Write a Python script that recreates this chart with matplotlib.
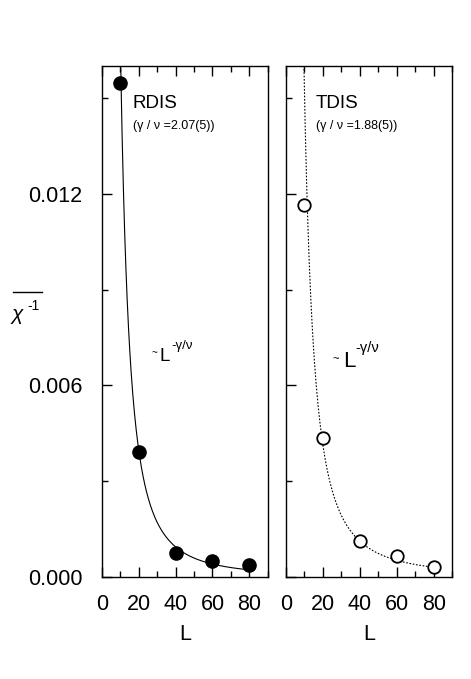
import numpy as np
import matplotlib
matplotlib.use("Agg")
import matplotlib.pyplot as plt
from matplotlib.ticker import MultipleLocator, FixedLocator
from matplotlib.lines import Line2D

plt.rcParams['font.family'] = ['Liberation Sans', 'DejaVu Sans']

# ---- data ----
L_vals = [10, 20, 40, 60, 80]
rdis_vals = [0.01548, 0.00392, 0.00075, 0.00050, 0.00038]
tdis_vals = [0.01166, 0.00436, 0.00113, 0.00066, 0.00031]
rdis_exp = 2.07
tdis_exp = 1.88
rdis_amp = 1.95
tdis_amp = 1.15
rdis_label = "RDIS"
tdis_label = "TDIS"
rdis_sub = "(γ / ν =2.07(5))"
tdis_sub = "(γ / ν =1.88(5))"
yticks = [0.000, 0.006, 0.012]
ytick_labels = ["0.000", "0.006", "0.012"]
xticks = [0, 20, 40, 60, 80]

W, H = 471, 679
fig = plt.figure(figsize=(W / 100, H / 100), dpi=100)

def px_ax(x0, x1, y0, y1):
    return fig.add_axes([x0 / W, 1 - y1 / H, (x1 - x0) / W, (y1 - y0) / H])

axL = px_ax(102, 267.7, 66, 577)
axR = px_ax(286, 452.3, 66, 577)

for ax in (axL, axR):
    ax.set_xlim(0, 90)
    ax.set_ylim(0, 0.016)
    ax.set_xticks(xticks)
    ax.xaxis.set_minor_locator(MultipleLocator(10))
    ax.set_yticks(yticks)
    ax.yaxis.set_minor_locator(FixedLocator([0.003, 0.009, 0.015]))
    ax.tick_params(axis='x', which='both', direction='in', bottom=True, top=True,
                   labelsize=15.5, pad=12, width=1.0)
    ax.tick_params(axis='x', which='major', length=7)
    ax.tick_params(axis='x', which='minor', length=4.5)
    ax.tick_params(axis='y', which='both', direction='in', left=True, right=False,
                   labelsize=15.5, pad=14, width=1.0)
    ax.tick_params(axis='y', which='major', length=7)
    ax.tick_params(axis='y', which='minor', length=4.5)
    for s in ax.spines.values():
        s.set_linewidth(1.0)
    ax.text(0.5, -0.123, "L", transform=ax.transAxes, ha='center', va='baseline',
            fontsize=15.5)

axL.set_yticklabels(ytick_labels)
axR.set_yticklabels([])

# fits
Lfit_l = np.linspace(10.2, 80, 300)
axL.plot(Lfit_l, rdis_amp * Lfit_l ** (-rdis_exp), color='black', lw=0.8)
axL.plot(L_vals, rdis_vals, 'o', color='black', ms=9.5, zorder=3)

Lfit_r = np.linspace(8.0, 80, 300)
axR.plot(Lfit_r, tdis_amp * Lfit_r ** (-tdis_exp), color='black', lw=0.8,
         linestyle=(0, (1.5, 1.5)))
axR.plot(L_vals, tdis_vals, 'o', mfc='white', mec='black', mew=1.3, ms=9, zorder=3)

# labels
axL.text(0.185, 0.917, rdis_label, transform=axL.transAxes, fontsize=13.5, va='baseline')
axL.text(0.185, 0.877, rdis_sub, transform=axL.transAxes, fontsize=9, va='baseline')
axR.text(0.180, 0.917, tdis_label, transform=axR.transAxes, fontsize=13.5, va='baseline')
axR.text(0.180, 0.877, tdis_sub, transform=axR.transAxes, fontsize=9, va='baseline')

# ~L^{-γ/ν}
axL.text(0.296, 0.432, "~", transform=axL.transAxes, fontsize=7, va='baseline')
axL.text(0.350, 0.423, "L", transform=axL.transAxes, fontsize=13.5, va='baseline')
axL.text(0.418, 0.447, "-γ/ν", transform=axL.transAxes, fontsize=9.5, va='baseline')

axR.text(0.281, 0.420, "~", transform=axR.transAxes, fontsize=8, va='baseline')
axR.text(0.341, 0.4115, "L", transform=axR.transAxes, fontsize=16, va='baseline')
axR.text(0.415, 0.440, "-γ/ν", transform=axR.transAxes, fontsize=10.5, va='baseline')

# y label: overline chi^-1
fig.text(11.5 / W, 1 - 320 / H, "χ", fontsize=15, va='baseline', ha='left',
         fontstyle='italic')
fig.text(27.5 / W, 1 - 310.5 / H, "-1", fontsize=10, va='baseline', ha='left')
fig.add_artist(Line2D([13.3 / W, 42.3 / W], [1 - 292.3 / H, 1 - 292.3 / H],
                      color='black', lw=1.0, transform=fig.transFigure))

fig.savefig("out.png", dpi=100)
